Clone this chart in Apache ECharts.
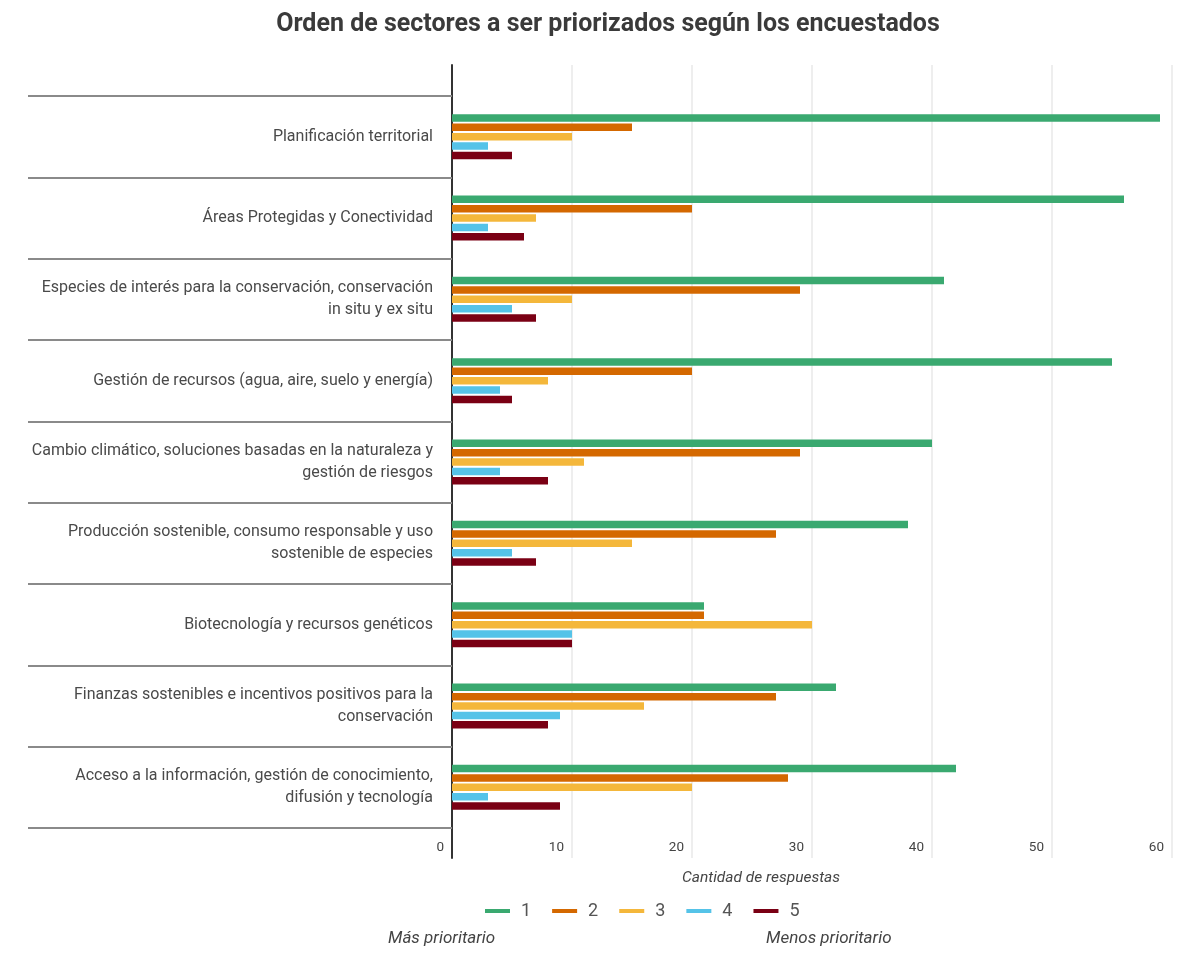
<!DOCTYPE html>
<html>
<head>
<meta charset="utf-8">
<script src="https://cdn.jsdelivr.net/npm/echarts@6/dist/echarts.min.js"></script>
<style>
  html, body { margin: 0; padding: 0; background: #fff; }
  #chart { width: 1195px; height: 953px; }
</style>
</head>
<body>
<div id="chart"></div>
<script>
// Sectors, top to bottom
const categories = [
  'Planificación territorial',
  'Áreas Protegidas y Conectividad',
  'Especies de interés para la conservación, conservación\nin situ y ex situ',
  'Gestión de recursos (agua, aire, suelo y energía)',
  'Cambio climático, soluciones basadas en la naturaleza y\ngestión de riesgos',
  'Producción sostenible, consumo responsable y uso\nsostenible de especies',
  'Biotecnología y recursos genéticos',
  'Finanzas sostenibles e incentivos positivos para la\nconservación',
  'Acceso a la información, gestión de conocimiento,\ndifusión y tecnología'
];

// Number of responses per priority rank (1 = most, 5 = least)
const rank1 = [59, 56, 41, 55, 40, 38, 21, 32, 42];
const rank2 = [15, 20, 29, 20, 29, 27, 21, 27, 28];
const rank3 = [10, 7, 10, 8, 11, 15, 30, 16, 20];
const rank4 = [3, 3, 5, 4, 4, 5, 10, 9, 3];
const rank5 = [5, 6, 7, 5, 8, 7, 10, 8, 9];

const seriesNames = ['1', '2', '3', '4', '5'];
const seriesData = [rank1, rank2, rank3, rank4, rank5];
const colors = ['#3aa970', '#d46800', '#f4b73b', '#55c3e8', '#7a0014'];

const xTicks = { min: 0, max: 60, interval: 10 };

const FONT = 'Roboto, "Noto Sans", sans-serif';

const chart = echarts.init(document.getElementById('chart'));

chart.setOption({
  animation: false,
  backgroundColor: '#ffffff',
  color: colors,
  title: {
    text: 'Orden de sectores a ser priorizados según los encuestados',
    left: 603,
    top: 7,
    textAlign: 'center',
    textStyle: { fontFamily: FONT, fontSize: 25, fontWeight: 'bold', color: '#3a3a3a' }
  },
  legend: {
    data: seriesNames,
    left: 480,
    top: 897,
    icon: 'rect',
    itemWidth: 25,
    itemHeight: 4,
    itemGap: 21,
    textStyle: { fontFamily: FONT, fontSize: 18, color: '#555555', padding: [0, 0, 0, 6] }
  },
  grid: [
    { left: 452, right: 23, top: 65, bottom: 95 },
    { left: 452, right: 23, top: 96, height: 732 }
  ],
  xAxis: [
    {
      gridIndex: 0,
      type: 'value',
      min: xTicks.min,
      max: xTicks.max,
      interval: xTicks.interval,
      axisLine: { show: false },
      axisTick: { show: false },
      splitLine: { show: true, lineStyle: { color: '#e9e9e9', width: 1.5 } },
      axisLabel: {
        align: 'right',
        verticalAlign: 'middle',
        margin: -10,
        padding: [0, 8, 0, 0],
        fontFamily: FONT,
        fontSize: 13.5,
        color: '#444444'
      }
    },
    {
      gridIndex: 1,
      type: 'value',
      min: xTicks.min,
      max: xTicks.max,
      interval: xTicks.interval,
      show: false
    }
  ],
  yAxis: [
    {
      gridIndex: 0,
      type: 'value',
      axisLine: { show: true, lineStyle: { color: '#333333', width: 2 } },
      axisTick: { show: false },
      axisLabel: { show: false },
      splitLine: { show: false }
    },
    {
      gridIndex: 1,
      type: 'category',
      inverse: true,
      data: categories,
      axisLine: { show: false },
      axisTick: { show: true, length: 424, lineStyle: { color: '#8a8a8a', width: 2 } },
      splitLine: { show: false },
      axisLabel: {
        margin: 19,
        fontFamily: FONT,
        fontSize: 16,
        lineHeight: 22,
        color: '#4a4a4a',
        align: 'right'
      }
    }
  ],
  series: seriesData.map((d, i) => ({
    name: seriesNames[i],
    type: 'bar',
    xAxisIndex: 1,
    yAxisIndex: 1,
    data: d,
    barWidth: 7.5,
    barGap: '25%',
    itemStyle: { color: colors[i] }
  })),
  graphic: [
    {
      type: 'text',
      left: 682,
      top: 870,
      style: { text: 'Cantidad de respuestas', font: 'italic 15.5px ' + FONT, fill: '#444444' }
    },
    {
      type: 'text',
      left: 388,
      top: 930,
      style: { text: 'Más prioritario', font: 'italic 17px ' + FONT, fill: '#444444' }
    },
    {
      type: 'text',
      left: 766,
      top: 930,
      style: { text: 'Menos prioritario', font: 'italic 17px ' + FONT, fill: '#444444' }
    }
  ]
});
</script>
</body>
</html>
